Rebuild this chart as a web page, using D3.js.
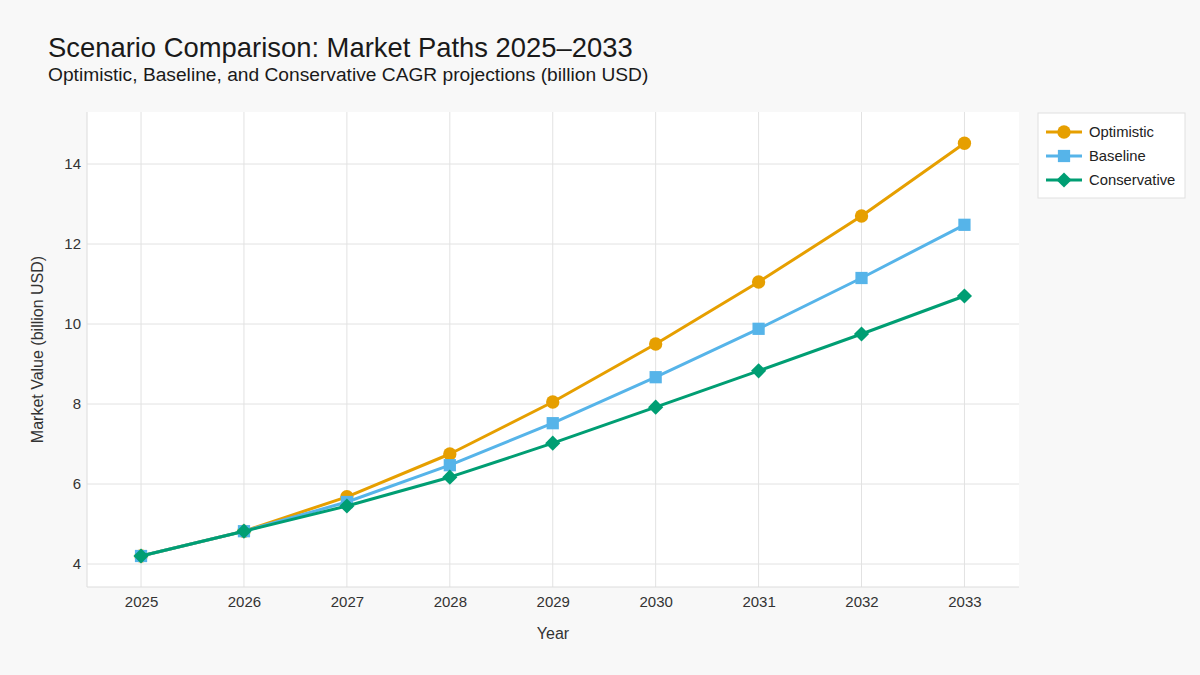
<!DOCTYPE html>
<html>
<head>
<meta charset="utf-8">
<script src="https://cdn.jsdelivr.net/npm/d3@7"></script>
<style>
  body { margin: 0; background: #f8f8f8; }
  svg { font-family: "Liberation Sans", Arial, sans-serif; }
</style>
</head>
<body>
<div id="chart"></div>
<script>
const years = [2025, 2026, 2027, 2028, 2029, 2030, 2031, 2032, 2033];
const optimistic = [4.2, 4.82, 5.68, 6.75, 8.05, 9.5, 11.05, 12.7, 14.52];
const baseline = [4.2, 4.82, 5.55, 6.47, 7.52, 8.67, 9.88, 11.15, 12.48];
const conservative = [4.2, 4.82, 5.45, 6.17, 7.02, 7.92, 8.83, 9.75, 10.7];
const seriesNames = ["Optimistic", "Baseline", "Conservative"];
const yTicks = [4, 6, 8, 10, 12, 14];

const colors = ["#E69F00", "#56B4E9", "#009E73"];
// circle, square, diamond (square turned 45deg)
const symbols = [d3.symbolCircle, d3.symbolSquare, d3.symbolSquare];
const symbolSizes = [140, 150, 115];
const rotations = [0, 0, 45];

const width = 1200, height = 675;
const margin = { top: 112, right: 181, bottom: 88, left: 87 };
const plotW = width - margin.left - margin.right;
const plotH = height - margin.top - margin.bottom;

const svg = d3.select("#chart").append("svg")
  .attr("width", width).attr("height", height);

svg.append("rect").attr("width", width).attr("height", height).attr("fill", "#f8f8f8");

// titles
svg.append("text").attr("x", 48).attr("y", 57)
  .attr("font-size", 27.4).attr("fill", "#1a1a1a")
  .text("Scenario Comparison: Market Paths 2025\u20132033");
svg.append("text").attr("x", 48).attr("y", 81)
  .attr("font-size", 19.2).attr("fill", "#1a1a1a")
  .text("Optimistic, Baseline, and Conservative CAGR projections (billion USD)");

const g = svg.append("g").attr("transform", `translate(${margin.left},${margin.top})`);

const x = d3.scaleLinear().domain([2024.475, 2033.53]).range([0, plotW]);
const y = d3.scaleLinear().domain([3.425, 15.3]).range([plotH, 0]);

g.append("rect").attr("width", plotW).attr("height", plotH).attr("fill", "#ffffff");

// grid
g.append("g").selectAll("line").data(years).join("line")
  .attr("x1", d => x(d)).attr("x2", d => x(d))
  .attr("y1", 0).attr("y2", plotH)
  .attr("stroke", "#e2e2e2").attr("stroke-width", 1);
g.append("g").selectAll("line").data(yTicks).join("line")
  .attr("x1", 0).attr("x2", plotW)
  .attr("y1", d => y(d)).attr("y2", d => y(d))
  .attr("stroke", "#e2e2e2").attr("stroke-width", 1);

// axis lines
g.append("line").attr("x1", 0).attr("x2", 0).attr("y1", 0).attr("y2", plotH)
  .attr("stroke", "#dcdcdc");
g.append("line").attr("x1", 0).attr("x2", plotW).attr("y1", plotH).attr("y2", plotH)
  .attr("stroke", "#dcdcdc");

// axes
const xAxis = g.append("g").attr("transform", `translate(0,${plotH})`)
  .call(d3.axisBottom(x).tickValues(years).tickFormat(d3.format("d")).tickSize(0).tickPadding(9));
const yAxis = g.append("g")
  .call(d3.axisLeft(y).tickValues(yTicks).tickSize(0).tickPadding(6));
[xAxis, yAxis].forEach(a => {
  a.select(".domain").remove();
  a.selectAll("text").attr("font-size", 15).attr("fill", "#333")
    .attr("font-family", "Liberation Sans, Arial, sans-serif");
});

svg.append("text").attr("x", margin.left + plotW / 2).attr("y", 639)
  .attr("text-anchor", "middle").attr("font-size", 16).attr("fill", "#333")
  .text("Year");
svg.append("text")
  .attr("transform", `translate(43,${margin.top + plotH / 2}) rotate(-90)`)
  .attr("text-anchor", "middle").attr("font-size", 16).attr("fill", "#333")
  .text("Market Value (billion USD)");

// series
const allSeries = [optimistic, baseline, conservative];
const line = d3.line().x((d, i) => x(years[i])).y(d => y(d));

allSeries.forEach((vals, i) => {
  const sg = g.append("g");
  sg.append("path").datum(vals).attr("d", line)
    .attr("fill", "none").attr("stroke", colors[i]).attr("stroke-width", 3)
    .attr("stroke-linejoin", "round");
  sg.selectAll("path.pt").data(vals).join("path").attr("class", "pt")
    .attr("transform", (d, j) => `translate(${x(years[j])},${y(d)}) rotate(${rotations[i]})`)
    .attr("d", d3.symbol().type(symbols[i]).size(symbolSizes[i]))
    .attr("fill", colors[i]);
});

// legend
const lg = svg.append("g").attr("transform", "translate(1038,113)");
lg.append("rect").attr("width", 147).attr("height", 85)
  .attr("fill", "#ffffff").attr("stroke", "#e0e0e0");
seriesNames.forEach((name, i) => {
  const row = lg.append("g").attr("transform", `translate(0,${19 + i * 24})`);
  row.append("line").attr("x1", 8).attr("x2", 44).attr("stroke", colors[i]).attr("stroke-width", 3);
  row.append("path").attr("transform", `translate(26,0) rotate(${rotations[i]})`)
    .attr("d", d3.symbol().type(symbols[i]).size(symbolSizes[i]))
    .attr("fill", colors[i]);
  row.append("text").attr("x", 51).attr("y", 5).attr("font-size", 14.8).attr("fill", "#222")
    .text(name);
});
</script>
</body>
</html>
